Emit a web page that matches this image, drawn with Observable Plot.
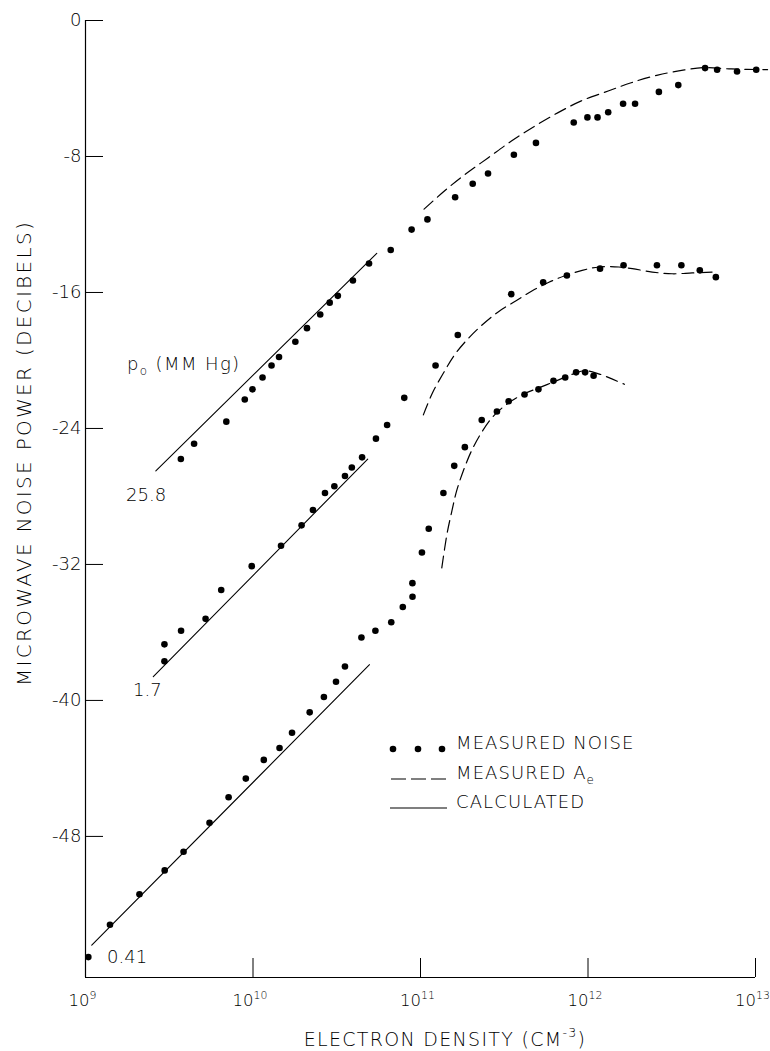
<!DOCTYPE html>
<html><head><meta charset="utf-8">
<script src="https://cdn.jsdelivr.net/npm/d3@7"></script>
<script src="https://cdn.jsdelivr.net/npm/@observablehq/plot@0.6"></script>
<style>
body{margin:0;background:#fff;}
svg text{font-weight:200;}
</style></head><body><div id="chart"></div>
<script>
// ---------- data (electron density in cm^-3, noise power in dB) ----------
const seriesNames = ["25.8", "1.7", "0.41"];

const noise258_n  = [3.71e9,4.45e9,6.93e9,8.93e9,9.93e9,1.14e10,1.29e10,1.43e10,1.79e10,2.10e10,2.52e10,2.87e10,3.21e10,3.95e10,4.93e10,6.64e10,8.85e10,1.10e11,1.61e11,2.05e11,2.53e11,3.61e11,4.89e11,8.22e11,9.92e11,1.14e12,1.32e12,1.62e12,1.91e12,2.65e12,3.46e12,5.00e12,5.90e12,7.76e12,1.01e13];
const noise258_db = [-25.8,-24.9,-23.6,-22.3,-21.7,-21.0,-20.3,-19.8,-18.9,-18.1,-17.3,-16.6,-16.2,-15.3,-14.3,-13.5,-12.3,-11.7,-10.4,-9.6,-9.0,-7.9,-7.2,-6.0,-5.7,-5.7,-5.4,-4.9,-4.9,-4.2,-3.8,-2.8,-2.9,-3.0,-2.9];

const noise17_n  = [2.96e9,2.96e9,3.72e9,5.21e9,6.46e9,9.83e9,1.47e10,1.95e10,2.28e10,2.69e10,3.06e10,3.54e10,3.89e10,4.48e10,5.42e10,6.32e10,8.0e10,1.23e11,1.67e11,3.48e11,5.40e11,7.48e11,1.18e12,1.63e12,2.58e12,3.61e12,4.65e12,5.80e12];
const noise17_db = [-37.7,-36.7,-35.9,-35.2,-33.5,-32.1,-30.9,-29.7,-28.8,-27.8,-27.4,-26.8,-26.3,-25.7,-24.6,-23.8,-22.2,-20.3,-18.5,-16.1,-15.4,-15.0,-14.6,-14.4,-14.4,-14.4,-14.7,-15.1];

const noise041_n  = [1.04e9,1.40e9,2.10e9,2.97e9,3.85e9,5.50e9,7.15e9,9.06e9,1.16e10,1.44e10,1.71e10,2.18e10,2.65e10,3.13e10,3.54e10,4.44e10,5.38e10,6.69e10,7.84e10,8.96e10,8.95e10,1.02e11,1.12e11,1.37e11,1.59e11,1.84e11,2.32e11,2.86e11,3.36e11,4.18e11,5.06e11,6.22e11,7.31e11,8.49e11,9.61e11,1.08e12];
const noise041_db = [-55.1,-53.2,-51.4,-50.0,-48.9,-47.2,-45.7,-44.6,-43.5,-42.8,-41.9,-40.7,-39.8,-38.9,-38.0,-36.3,-35.9,-35.4,-34.5,-33.9,-33.1,-31.3,-29.9,-27.8,-26.2,-25.1,-23.5,-23.0,-22.4,-22.0,-21.7,-21.2,-21.0,-20.7,-20.7,-20.9];

// calculated (straight lines)
const calc258_n = [2.63e9, 5.48e10], calc258_db = [-26.5, -13.7];
const calc17_n  = [2.54e9, 4.84e10], calc17_db  = [-38.6, -25.8];
const calc041_n = [1.09e9, 4.96e10], calc041_db = [-54.4, -37.9];

// measured A_e (dashed)
const ae258_n  = [1.05e11,1.40e11,1.85e11,2.54e11,3.49e11,4.82e11,6.63e11,9.12e11,1.32e12,1.81e12,2.61e12,3.77e12,4.96e12,7.15e12,1.18e13];
const ae258_db = [-11.1,-10.0,-9.05,-8.07,-7.09,-6.21,-5.42,-4.73,-4.15,-3.66,-3.21,-2.91,-2.77,-2.85,-2.89];
const ae17_n  = [1.04e11,1.18e11,1.36e11,1.59e11,1.91e11,2.34e11,2.95e11,3.70e11,4.65e11,5.84e11,7.35e11,9.23e11,1.16e12,1.53e12,1.84e12,2.42e12,3.18e12,4.19e12,5.51e12];
const ae17_db = [-23.2,-21.9,-20.8,-19.7,-18.75,-17.9,-17.1,-16.5,-15.9,-15.4,-15.0,-14.7,-14.5,-14.5,-14.6,-14.8,-14.9,-14.85,-14.8];
const ae041_n  = [1.34e11,1.44e11,1.54e11,1.64e11,1.80e11,2.02e11,2.31e11,2.71e11,3.25e11,4.08e11,5.13e11,6.46e11,8.11e11,9.52e11,1.17e12,1.40e12,1.65e12];
const ae041_db = [-32.2,-30.2,-28.85,-27.7,-26.5,-25.3,-24.25,-23.3,-22.6,-22.0,-21.6,-21.2,-20.8,-20.6,-20.8,-21.1,-21.4];

// axes
const xMin = 1e9, xMax = 1e13;
const yMin = -56.3, yMax = 0;
const xTicks = [1e9, 1e10, 1e11, 1e12, 1e13];
const yTicks = [0, -8, -16, -24, -32, -40, -48];

// annotations (curve labels, centred)
const annText = ["p_{o} (MM Hg)", "25.8", "1.7", "0.41"];
const annX    = [3.86e9, 2.3e9, 2.34e9, 1.77e9];
const annY    = [-20.2, -27.9, -39.4, -55.1];

const legendLabels = ["MEASURED NOISE", "MEASURED A_{e}", "CALCULATED"];

// ---------- build tables ----------
function rows(name, N, D) { return N.map((n, i) => ({series: name, n, db: D[i]})); }
const noise = [...rows("25.8", noise258_n, noise258_db), ...rows("1.7", noise17_n, noise17_db), ...rows("0.41", noise041_n, noise041_db)];
const calc  = [...rows("25.8", calc258_n, calc258_db), ...rows("1.7", calc17_n, calc17_db), ...rows("0.41", calc041_n, calc041_db)];
const ae    = [...rows("25.8", ae258_n, ae258_db), ...rows("1.7", ae17_n, ae17_db), ...rows("0.41", ae041_n, ae041_db)];
const ann   = annText.map((t, i) => ({t, x: annX[i], y: annY[i]}));

const FONT = "'DejaVu Sans', 'Liberation Sans', sans-serif";
const ink = "#000";
const FS = 18;

const chart = Plot.plot({
  width: 770, height: 1051,
  marginTop: 20, marginBottom: 74, marginLeft: 85, marginRight: 15,
  style: {fontFamily: FONT, fontSize: FS + "px", color: ink, background: "#fff"},
  x: {type: "log", domain: [xMin, xMax]},
  y: {domain: [yMin, yMax]},
  marks: [
    Plot.ruleX([xMin], {y1: yMin, y2: yMax, stroke: ink, strokeWidth: 1.2}),
    Plot.ruleY([yMin], {stroke: ink, strokeWidth: 1.2}),
    Plot.axisY(yTicks, {anchor: "left", tickSize: -18, tickPadding: 22, tickFormat: d => String(d), label: null, fontSize: FS}),
    // inward tick marks (no labels)
    Plot.axisX(xTicks.slice(1), {anchor: "bottom", tickSize: -19, tickFormat: () => "", label: null}),
    // tick labels
    Plot.axisX(xTicks, {anchor: "bottom", tickSize: 0, tickPadding: 17, dx: -3, tickFormat: d => `10^{${Math.round(Math.log10(d))}}`, label: null, fontSize: 16.5}),
    Plot.line(calc, {x: "n", y: "db", z: "series", stroke: ink, strokeWidth: 1.1}),
    Plot.line(ae, {x: "n", y: "db", z: "series", stroke: ink, strokeWidth: 1.2, strokeDasharray: "12,6", curve: "catmull-rom"}),
    Plot.dot(noise, {x: "n", y: "db", r: 3.3, fill: ink}),
    Plot.text(ann, {x: "x", y: "y", text: "t", textAnchor: "middle", fontSize: FS, fill: ink})
  ]
});

document.getElementById("chart").appendChild(chart);

// ---------- rich text (super/subscripts) ----------
function rich(el, str, fs) {
  const s = d3.select(el); s.text(null);
  const parts = []; const re = /([\^_])\{([^}]*)\}/g; let last = 0, m;
  while ((m = re.exec(str))) {
    if (m.index > last) parts.push({t: str.slice(last, m.index), k: 0});
    parts.push({t: m[2], k: m[1] === "^" ? 1 : -1});
    last = re.lastIndex;
  }
  if (last < str.length) parts.push({t: str.slice(last), k: 0});
  let cur = 0;
  for (const p of parts) {
    const off = p.k === 1 ? -0.45 * fs : p.k === -1 ? 0.3 * fs : 0;
    const ts = s.append("tspan").text(p.t).attr("dy", off - cur);
    if (p.k) ts.attr("font-size", 0.66 * fs);
    cur = off;
  }
}

const svg = d3.select(chart);
svg.selectAll("text").each(function() {
  const t = this.textContent;
  if (/[\^_]\{/.test(t)) {
    const fs = parseFloat(getComputedStyle(this).fontSize) || FS;
    if (t.startsWith("p_")) d3.select(this).style("letter-spacing", "1.4px");
    rich(this, t, fs);
  }
});

// axis titles
const yt = svg.append("text")
  .attr("transform", "translate(31,453) rotate(-90)")
  .attr("text-anchor", "middle").attr("fill", ink)
  .style("font-size", "20px").style("letter-spacing", "2.3px");
rich(yt.node(), "MICROWAVE NOISE POWER (DECIBELS)", 20);

const xt = svg.append("text")
  .attr("x", 445).attr("y", 1046)
  .attr("text-anchor", "middle").attr("fill", ink)
  .style("font-size", "19px").style("letter-spacing", "1.3px");
rich(xt.node(), "ELECTRON DENSITY (CM^{-3})", 19);

// legend
const lg = svg.append("g").attr("fill", ink).attr("stroke", ink);
const rowsY = [749, 779, 808];
[393, 418, 442].forEach(cx => lg.append("circle").attr("cx", cx).attr("cy", rowsY[0]).attr("r", 3.3).attr("stroke", "none"));
lg.append("line").attr("x1", 391).attr("x2", 447).attr("y1", rowsY[1]).attr("y2", rowsY[1]).attr("stroke-width", 1.2).attr("stroke-dasharray", "15,5");
lg.append("line").attr("x1", 390).attr("x2", 447).attr("y1", rowsY[2]).attr("y2", rowsY[2]).attr("stroke-width", 1.1);
legendLabels.forEach((lab, i) => {
  const t = lg.append("text").attr("x", 456).attr("y", rowsY[i]).attr("dy", "0.36em")
    .attr("text-anchor", "start")
    .attr("stroke", "none").style("font-size", FS + "px").style("letter-spacing", "1.1px");
  rich(t.node(), lab, FS);
});
</script>
</body></html>
